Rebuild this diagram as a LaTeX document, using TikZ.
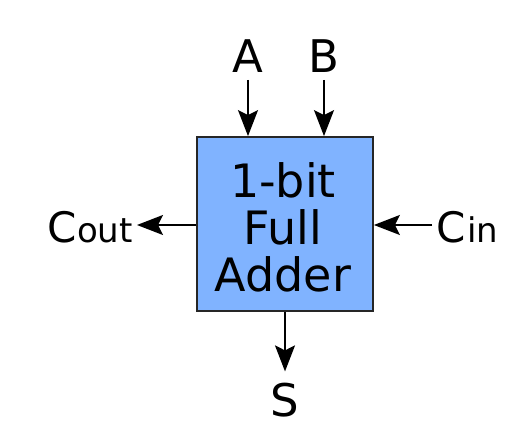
\documentclass[tikz,border=0pt]{standalone}
\usepackage{fontspec}
\setmainfont{DejaVu Sans}
\usetikzlibrary{arrows.meta}
\definecolor{adderblue}{HTML}{80B3FF}
\tikzset{
  sig/.style={-{Stealth[length=26pt,width=20pt,inset=5pt]}, line width=1.8pt},
  lbl/.style={inner sep=0pt, font=\fontsize{45}{45}\selectfont}
}
\newcommand{\carry}[2]{{\fontsize{42}{42}\selectfont C}#1{\fontsize{34}{34}\selectfont #2}}

\begin{document}
\begin{tikzpicture}[x=1pt,y=-1pt]
        % cadre
        \useasboundingbox (0,0) rectangle (527,427);
        % le bloc
        \node[draw=black!85, line width=1.8pt, fill=adderblue, minimum width=176pt, minimum height=174pt] (adder) at (285,224) {};
        \node[align=center, inner sep=0pt, font=\fontsize{46}{47}\selectfont] (txt) at (283,227) {1-bit\\Full\\Adder};

        % entrées et sorties
        \node[lbl, anchor=base] (a) at (248,73) {A};
        \node[lbl, anchor=base] (b) at (324,73) {B};
        \node[inner sep=0pt, anchor=base east] (cout) at (133,243) {\carry{}{out}};
        \node[inner sep=0pt, anchor=base west] (cin) at (436,243) {\carry{\kern2pt}{in}};
        \node[lbl, anchor=base] (s) at (285,416) {S};

        \draw[sig, shorten <=7pt] (a.base) -- (a |- adder.north);
        \draw[sig, shorten <=7pt] (b.base) -- (b |- adder.north);
        \draw[sig, shorten >=4pt] (adder.west |- 0,225) -- (cout.east |- 0,225);
        \draw[sig, shorten <=4pt] (cin.west |- 0,225) -- (adder.east |- 0,225);
        \draw[sig, shorten >=11pt] (adder.south) -- (s.north);
    \end{tikzpicture}
\end{document}
